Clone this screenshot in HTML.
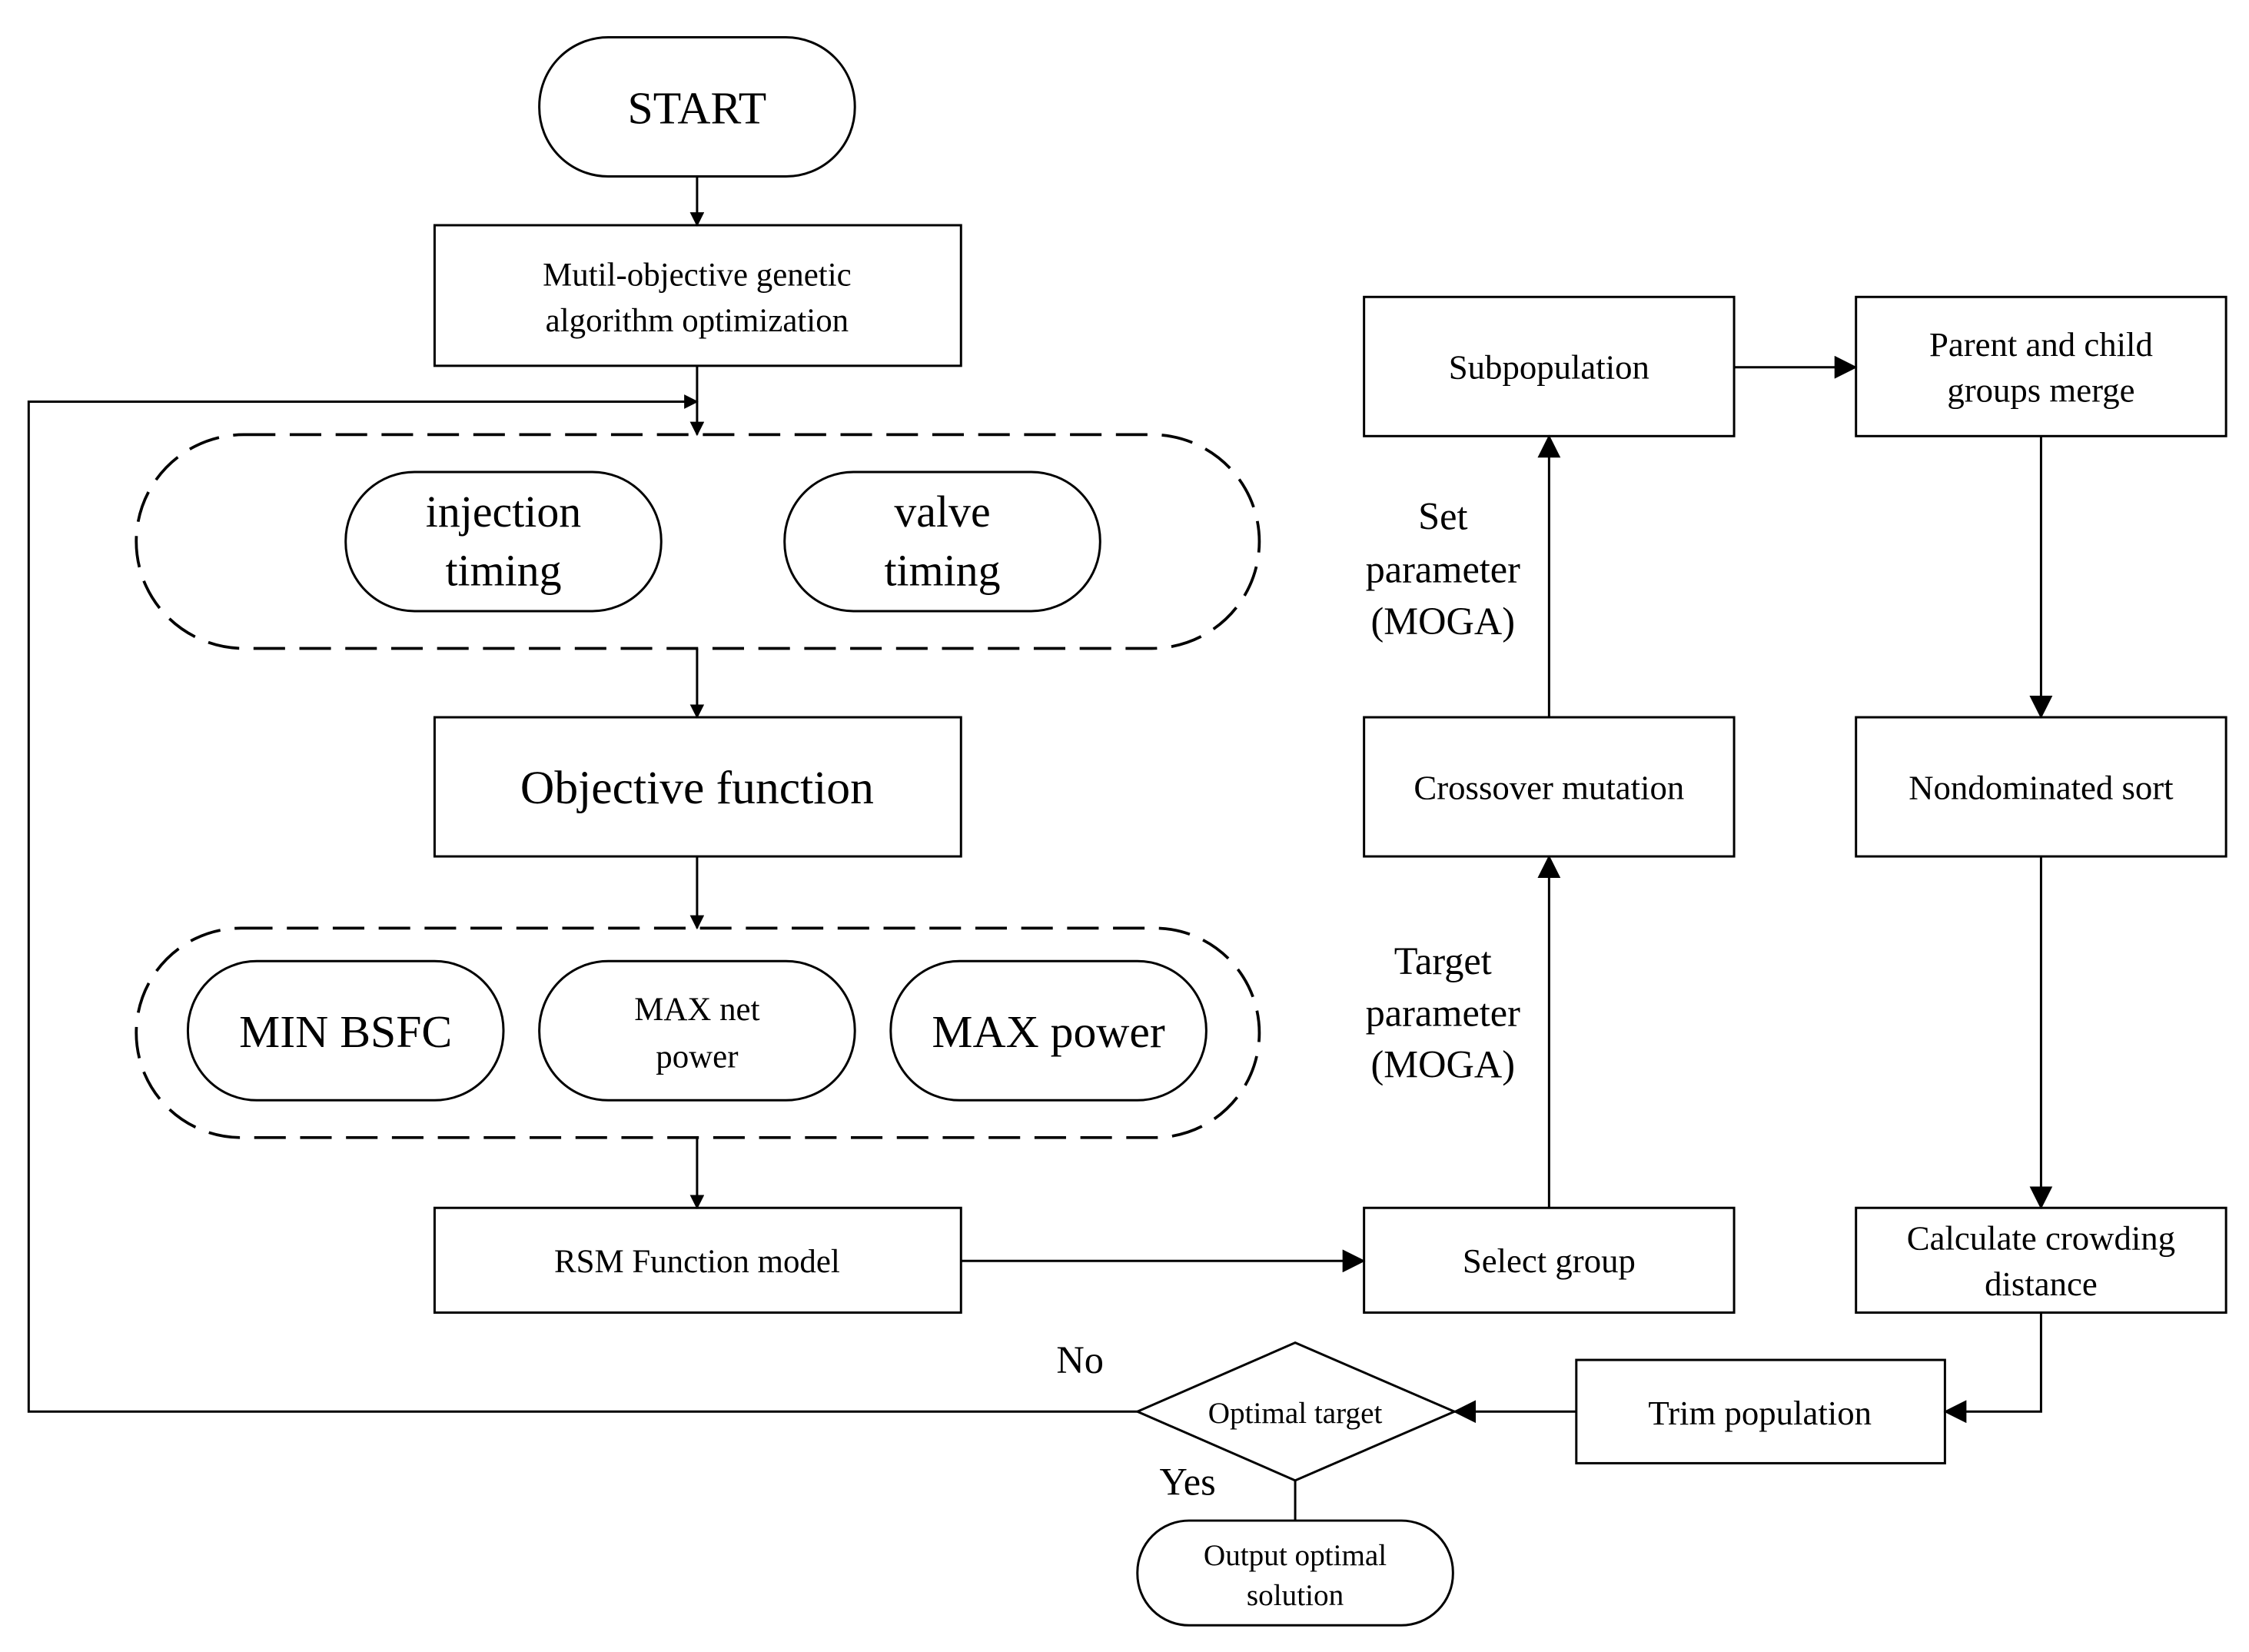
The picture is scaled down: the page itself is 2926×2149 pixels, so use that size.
<!DOCTYPE html>
<html><head><meta charset="utf-8"><style>
html,body{margin:0;padding:0;background:#fff}
svg{display:block}
text{font-family:"Liberation Serif",serif;fill:#000;text-anchor:middle}
</style></head><body>
<svg width="2926" height="2149" viewBox="0 0 1568 1151.6" preserveAspectRatio="none" xmlns="http://www.w3.org/2000/svg">
<defs><marker id="a" markerWidth="10" markerHeight="10" refX="9" refY="5" orient="auto" markerUnits="userSpaceOnUse"><path d="M0,0 L10,5 L0,10 Z" fill="#000"/></marker>
<marker id="b" markerWidth="16" markerHeight="16" refX="15" refY="8" orient="auto" markerUnits="userSpaceOnUse"><path d="M0,0 L16,8 L0,16 Z" fill="#000"/></marker></defs>
<g fill="none" stroke="#000" stroke-width="1.6">
<rect x="376" y="26" width="220" height="97" rx="48"/>
<rect x="303" y="157" width="367" height="98"/>
<rect x="95" y="303" width="783" height="149" rx="75" stroke-dasharray="22,10" stroke-width="2"/>
<rect x="241" y="329" width="220" height="97" rx="48"/>
<rect x="547" y="329" width="220" height="97" rx="48"/>
<rect x="303" y="500" width="367" height="97"/>
<rect x="95" y="647" width="783" height="146" rx="73" stroke-dasharray="22,10" stroke-width="2"/>
<rect x="131" y="670" width="220" height="97" rx="48"/>
<rect x="376" y="670" width="220" height="97" rx="48"/>
<rect x="621" y="670" width="220" height="97" rx="48"/>
<rect x="303" y="842" width="367" height="73"/>
<rect x="951" y="842" width="258" height="73"/>
<rect x="951" y="500" width="258" height="97"/>
<rect x="951" y="207" width="258" height="97"/>
<rect x="1294" y="207" width="258" height="97"/>
<rect x="1294" y="500" width="258" height="97"/>
<rect x="1294" y="842" width="258" height="73"/>
<rect x="1099" y="948" width="257" height="72"/>
<path d="M903,936 L1014,984 L903,1032 L793,984 Z"/>
<rect x="793" y="1060" width="220" height="73" rx="36"/>
<line x1="486" y1="123" x2="486" y2="157" marker-end="url(#a)"/>
<line x1="486" y1="255" x2="486" y2="303" marker-end="url(#a)"/>
<polyline points="793,984 20,984 20,280 486,280" marker-end="url(#a)"/>
<line x1="486" y1="452" x2="486" y2="500" marker-end="url(#a)"/>
<line x1="486" y1="597" x2="486" y2="647" marker-end="url(#a)"/>
<line x1="486" y1="793" x2="486" y2="842" marker-end="url(#a)"/>
<line x1="670" y1="879" x2="951" y2="879" marker-end="url(#b)"/>
<line x1="1080" y1="842" x2="1080" y2="597" marker-end="url(#b)"/>
<line x1="1080" y1="500" x2="1080" y2="304" marker-end="url(#b)"/>
<line x1="1209" y1="256" x2="1294" y2="256" marker-end="url(#b)"/>
<line x1="1423" y1="304" x2="1423" y2="500" marker-end="url(#b)"/>
<line x1="1423" y1="597" x2="1423" y2="842" marker-end="url(#b)"/>
<polyline points="1423,915 1423,984 1356,984" marker-end="url(#b)"/>
<line x1="1099" y1="984" x2="1014" y2="984" marker-end="url(#b)"/>
<line x1="903" y1="1032" x2="903" y2="1060"/>
</g>
<text x="486" y="86" font-size="32">START</text>
<text x="486" y="199" font-size="23">Mutil-objective genetic</text>
<text x="486" y="231" font-size="23">algorithm optimization</text>
<text x="351" y="367" font-size="31">injection</text>
<text x="351" y="408" font-size="31">timing</text>
<text x="657" y="367" font-size="31">valve</text>
<text x="657" y="408" font-size="31">timing</text>
<text x="486" y="560" font-size="33">Objective function</text>
<text x="241" y="730" font-size="32">MIN BSFC</text>
<text x="486" y="711" font-size="23">MAX net</text>
<text x="486" y="744" font-size="23">power</text>
<text x="731" y="730" font-size="32">MAX power</text>
<text x="486" y="887" font-size="23">RSM Function model</text>
<text x="1080" y="887" font-size="24">Select group</text>
<text x="1080" y="557" font-size="24">Crossover mutation</text>
<text x="1080" y="264" font-size="24">Subpopulation</text>
<text x="1423" y="248" font-size="24">Parent and child</text>
<text x="1423" y="280" font-size="24">groups merge</text>
<text x="1423" y="557" font-size="24">Nondominated sort</text>
<text x="1423" y="871" font-size="24">Calculate crowding</text>
<text x="1423" y="903" font-size="24">distance</text>
<text x="1227" y="993" font-size="24">Trim population</text>
<text x="903" y="992" font-size="21">Optimal target</text>
<text x="903" y="1091" font-size="21">Output optimal</text>
<text x="903" y="1119" font-size="21">solution</text>
<text x="1006" y="369" font-size="27">Set</text>
<text x="1006" y="406" font-size="27">parameter</text>
<text x="1006" y="442" font-size="27">(MOGA)</text>
<text x="1006" y="679" font-size="27">Target</text>
<text x="1006" y="715" font-size="27">parameter</text>
<text x="1006" y="751" font-size="27">(MOGA)</text>
<text x="753" y="957" font-size="27">No</text>
<text x="828" y="1042" font-size="27">Yes</text>
</svg>
</body></html>
